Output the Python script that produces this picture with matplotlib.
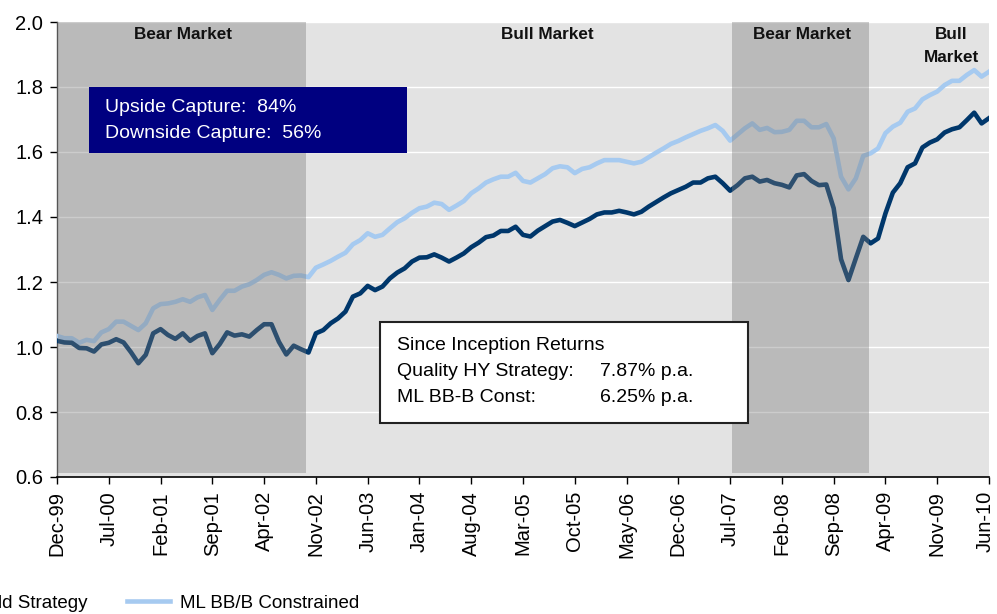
import numpy as np
import matplotlib
matplotlib.use("Agg")
import matplotlib.pyplot as plt
import matplotlib.transforms as mtransforms
from matplotlib.patches import Rectangle
from matplotlib.lines import Line2D

plt.rcParams['font.family'] = ['Liberation Sans', 'DejaVu Sans']

# ---------------- data ----------------
tick_labels = ['Dec-99', 'Jul-00', 'Feb-01', 'Sep-01', 'Apr-02', 'Nov-02', 'Jun-03',
               'Jan-04', 'Aug-04', 'Mar-05', 'Oct-05', 'May-06', 'Dec-06', 'Jul-07',
               'Feb-08', 'Sep-08', 'Apr-09', 'Nov-09', 'Jun-10']
tick_step = 7  # months between labels

quality_hy = [
    1.019, 1.014, 1.013, 0.997, 0.996, 0.986, 1.008, 1.013, 1.024, 1.014,
    0.984, 0.950, 0.976, 1.042, 1.055, 1.037, 1.025, 1.042, 1.019, 1.034,
    1.042, 0.981, 1.009, 1.045, 1.035, 1.039, 1.032, 1.052, 1.070, 1.070,
    1.016, 0.977, 1.004, 0.993, 0.983, 1.042, 1.052, 1.073, 1.088, 1.109,
    1.155, 1.165, 1.188, 1.175, 1.186, 1.211, 1.229, 1.242, 1.263, 1.275,
    1.276, 1.285, 1.275, 1.263, 1.275, 1.288, 1.307, 1.321, 1.338, 1.343,
    1.357, 1.357, 1.370, 1.345, 1.340, 1.358, 1.372, 1.386, 1.391, 1.382,
    1.372, 1.383, 1.394, 1.408, 1.414, 1.414, 1.419, 1.414, 1.408, 1.416,
    1.432, 1.446, 1.460, 1.473, 1.483, 1.493, 1.506, 1.506, 1.519, 1.524,
    1.504, 1.481, 1.498, 1.519, 1.524, 1.509, 1.514, 1.504, 1.499, 1.491,
    1.528, 1.532, 1.511, 1.498, 1.500, 1.427, 1.270, 1.206, 1.273, 1.339,
    1.319, 1.334, 1.411, 1.475, 1.504, 1.553, 1.565, 1.614, 1.629, 1.639,
    1.660, 1.670, 1.676, 1.698, 1.721, 1.688, 1.704]

ml_bbb = [
    1.034, 1.027, 1.027, 1.013, 1.022, 1.018, 1.045, 1.055, 1.078, 1.078,
    1.065, 1.052, 1.073, 1.119, 1.132, 1.134, 1.139, 1.147, 1.139, 1.153,
    1.160, 1.114, 1.145, 1.173, 1.173, 1.186, 1.193, 1.206, 1.222, 1.230,
    1.222, 1.211, 1.219, 1.220, 1.215, 1.244, 1.254, 1.265, 1.278, 1.290,
    1.316, 1.329, 1.350, 1.339, 1.345, 1.365, 1.384, 1.396, 1.413, 1.427,
    1.432, 1.444, 1.440, 1.422, 1.435, 1.449, 1.473, 1.488, 1.506, 1.516,
    1.524, 1.524, 1.536, 1.511, 1.506, 1.519, 1.532, 1.550, 1.556, 1.553,
    1.535, 1.548, 1.553, 1.565, 1.575, 1.575, 1.575, 1.570, 1.565, 1.570,
    1.584, 1.598, 1.611, 1.625, 1.634, 1.645, 1.655, 1.665, 1.673, 1.683,
    1.665, 1.635, 1.654, 1.673, 1.688, 1.668, 1.674, 1.661, 1.662, 1.668,
    1.696, 1.696, 1.676, 1.676, 1.686, 1.642, 1.524, 1.485, 1.519, 1.588,
    1.596, 1.611, 1.658, 1.678, 1.690, 1.724, 1.734, 1.762, 1.775, 1.786,
    1.806, 1.819, 1.819, 1.837, 1.852, 1.832, 1.847]

series_names = ['Quality High Yield Strategy', 'ML BB/B Constrained']

# market regimes (month index ranges)
bear_periods = [(0.1, 33.6), (91.3, 109.8)]
regime_labels = ['Bear Market', 'Bull Market', 'Bear Market', 'Bull\nMarket']

capture_lines = ['Upside Capture:  84%', 'Downside Capture:  56%']
returns_title = 'Since Inception Returns'
returns_names = ['Quality HY Strategy:', 'ML BB-B Const:']
returns_values = ['7.87% p.a.', '6.25% p.a.']

# ---------------- figure ----------------
W, H = 997, 614
fig = plt.figure(figsize=(W / 100, H / 100), dpi=100)
L, R, T, B = 57, 989, 22, 477
ax = fig.add_axes([L / W, 1 - B / H, (R - L) / W, (B - T) / H])


def axc(px, py):
    return ((px - L) / (R - L), (B - py) / (B - T))


ax.set_facecolor('#E3E3E3')
x = np.arange(len(quality_hy))
dark = '#00376B'
light = '#A6CAF0'
ax.plot(x, ml_bbb, color=light, lw=3.3, zorder=3, solid_joinstyle='round')
ax.plot(x, quality_hy, color=dark, lw=3.3, zorder=4, solid_joinstyle='round')

ax.set_xlim(0, len(quality_hy) - 1)
ax.set_ylim(0.6, 2.0)
yt = np.arange(0.6, 2.01, 0.2)
ax.set_yticks(yt)
ax.set_yticklabels([f'{v:.1f}' for v in yt])
ax.yaxis.grid(True, color='white', lw=1.0, zorder=1)
ax.set_axisbelow(True)

for (a, b) in bear_periods:
    ax.add_patch(Rectangle((a, 0.612), b - a, 2.0 - 0.612, facecolor='#787878',
                           alpha=0.375, edgecolor='none', zorder=5))

ticks = np.arange(0, len(quality_hy), tick_step)
ax.set_xticks(ticks)
ax.set_xticklabels(tick_labels, rotation=90, fontsize=14.5)
ax.tick_params(axis='y', labelsize=14.5, length=5, width=1, direction='out', pad=5)
ax.tick_params(axis='x', length=5, width=1, direction='out', pad=5)

# nudge the last tick label inward so it stays inside the canvas
last = ax.get_xticklabels()[-1]
last.set_transform(last.get_transform() +
                   mtransforms.ScaledTranslation(-4 / 100, 0, fig.dpi_scale_trans))

for s in ['top', 'right']:
    ax.spines[s].set_visible(False)
ax.spines['left'].set_color('#555555')
ax.spines['bottom'].set_color('black')
ax.spines['left'].set_linewidth(1.0)
ax.spines['bottom'].set_linewidth(1.2)

# regime labels
reg_pos = [(183, 39), (547, 39), (802, 39), (951, 39)]
for lab, (px, py) in zip(regime_labels, reg_pos):
    lines = lab.split('\n')
    for i, ln in enumerate(lines):
        xx, yy = axc(px, py + i * 23)
        ax.text(xx, yy, ln, transform=ax.transAxes, ha='center', va='baseline',
                fontsize=12.3, fontweight='bold', color='#111111', zorder=7)

# capture box
x0, y0 = axc(89, 153)
x1, y1 = axc(407, 87)
ax.add_patch(Rectangle((x0, y0), x1 - x0, y1 - y0, transform=ax.transAxes,
                       facecolor='#000080', edgecolor='none', zorder=8, clip_on=False))
for i, t in enumerate(capture_lines):
    xx, yy = axc(105, 111.5 + i * 26)
    ax.text(xx, yy, t, transform=ax.transAxes, color='white', fontsize=14,
            va='baseline', ha='left', zorder=9)

# returns box
x0, y0 = axc(380, 423)
x1, y1 = axc(748, 322)
ax.add_patch(Rectangle((x0, y0), x1 - x0, y1 - y0, transform=ax.transAxes,
                       facecolor='white', edgecolor='#222222', lw=1.5, zorder=8))
xx, yy = axc(397, 350)
ax.text(xx, yy, returns_title, transform=ax.transAxes, fontsize=14,
        va='baseline', ha='left', zorder=9)
for i, (n, v) in enumerate(zip(returns_names, returns_values)):
    xx, yy = axc(397, 376 + i * 25.7)
    ax.text(xx, yy, n, transform=ax.transAxes, fontsize=14, va='baseline', ha='left', zorder=9)
    xx, yy = axc(600, 376 + i * 25.7)
    ax.text(xx, yy, v, transform=ax.transAxes, fontsize=14, va='baseline', ha='left', zorder=9)

# legend (partly off-canvas, as in reference)
handles = [Line2D([], [], color=dark, lw=3.3), Line2D([], [], color=light, lw=3.3)]
fig.legend(handles, series_names, loc='center right', bbox_to_anchor=(359 / W, 1 - 603 / H),
           ncol=2, frameon=False, fontsize=13.5, borderpad=0, handlelength=2.3,
           handletextpad=0.53, columnspacing=2.1, borderaxespad=0)

fig.savefig('out.png', dpi=100)
